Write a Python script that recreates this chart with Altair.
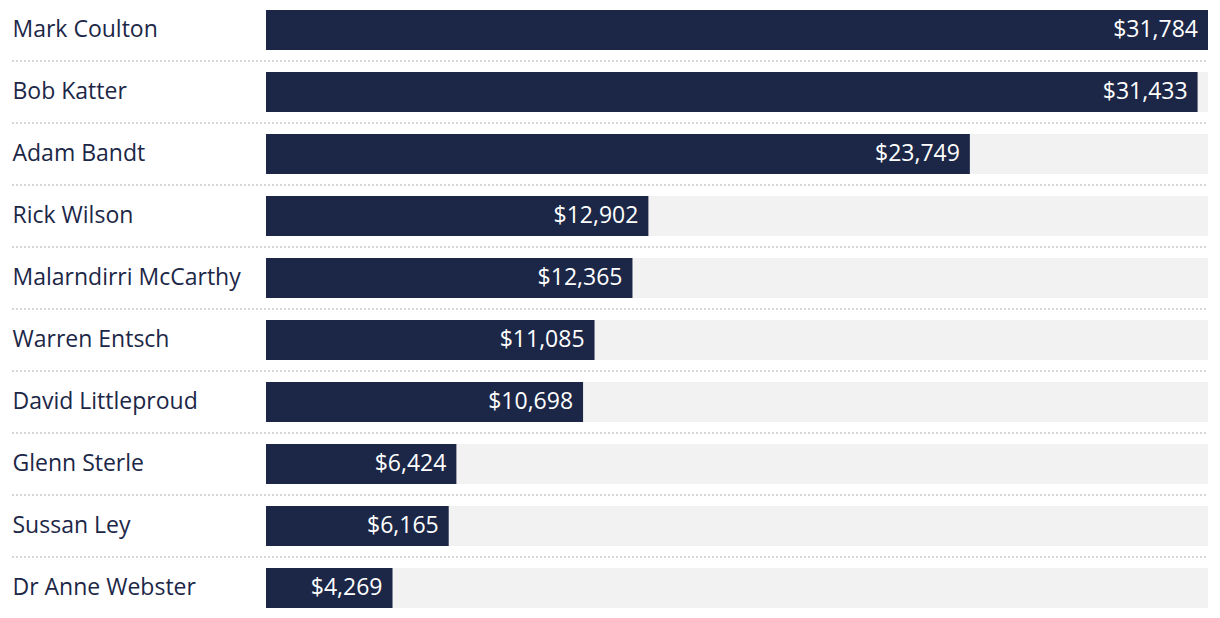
import altair as alt
import pandas as pd

names = ["Mark Coulton", "Bob Katter", "Adam Bandt", "Rick Wilson", "Malarndirri McCarthy",
         "Warren Entsch", "David Littleproud", "Glenn Sterle", "Sussan Ley", "Dr Anne Webster"]
amounts = [31784, 31433, 23749, 12902, 12365, 11085, 10698, 6424, 6165, 4269]

df = pd.DataFrame({"name": names, "amount": amounts})
max_amount = max(amounts)
df["full"] = max_amount
df["sep"] = [1] * (len(names) - 1) + [0]

W = 942
H = 602
NAVY = "#1c2747"
FONT = "Open Sans"
FS = 23

yscale = alt.Scale(domain=names, paddingInner=22 / 62, paddingOuter=2 / 62)
xscale = alt.Scale(domain=[0, max_amount], nice=False, zero=True)

yaxis = alt.Axis(title=None, domain=False, ticks=False, tickSize=0, grid=False, labelAlign="left",
                 labelPadding=254, labelFontSize=FS, labelFont=FONT, labelColor=NAVY,
                 labelBaseline="middle", labelLimit=300)
yenc = alt.Y("name:N", sort=names, scale=yscale, axis=yaxis)

base = alt.Chart(df)

bg = base.mark_bar(color="#f2f2f2").encode(
    x=alt.X("full:Q", scale=xscale, axis=None), y=yenc)

bars = base.mark_bar(color=NAVY).encode(
    x=alt.X("amount:Q", scale=xscale, axis=None), y=yenc)

labels = base.mark_text(align="right", baseline="middle", dx=-10, fontSize=FS,
                        font=FONT, color="white").encode(
    x=alt.X("amount:Q", scale=xscale, axis=None), y=yenc,
    text=alt.Text("amount:Q", format="$,d"))

seps = base.transform_filter("datum.sep == 1").mark_rule(
    color="#d6d6d6", strokeWidth=2, strokeDash=[2, 2], yOffset=11).encode(
    y=alt.Y("name:N", sort=names, scale=yscale, bandPosition=1, axis=yaxis),
    x=alt.value(-254), x2=alt.value(W))

chart = alt.layer(bg, seps, bars, labels).properties(
    width=W, height=H,
    background="white",
    autosize=alt.AutoSizeParams(type="none"),
    padding={"left": 258, "top": 0, "right": 0, "bottom": 0},
).configure_view(stroke=None, strokeWidth=0)

chart.save("out.html", embed_options={"renderer": "svg", "actions": False})
